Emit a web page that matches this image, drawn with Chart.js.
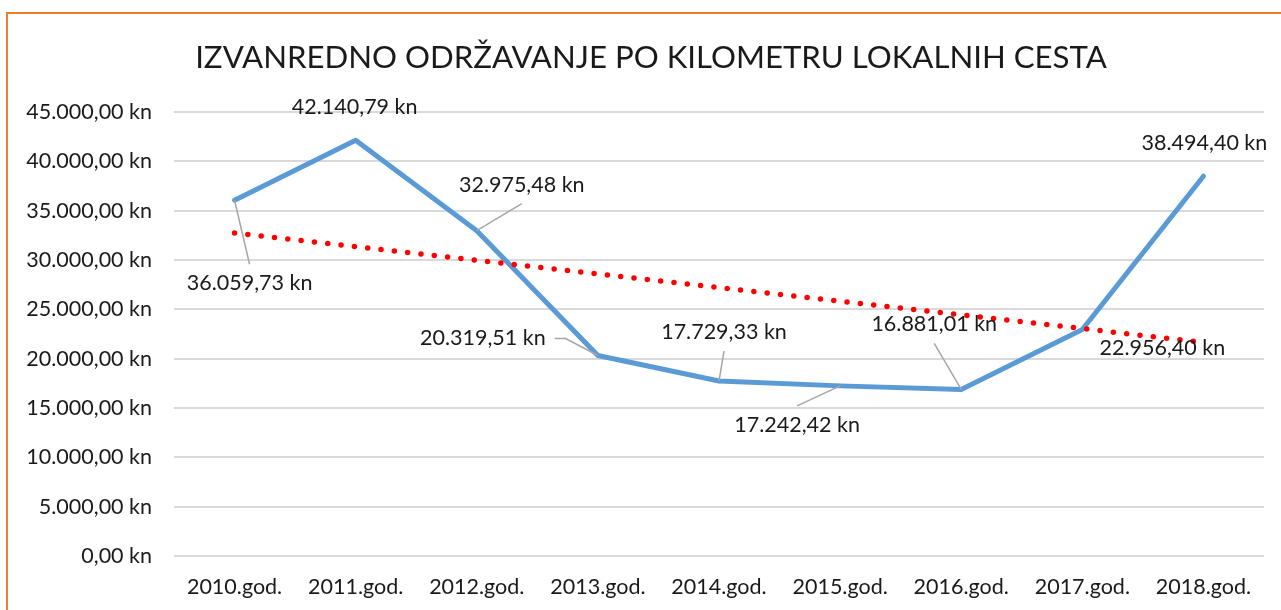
<!DOCTYPE html>
<html>
<head>
<meta charset="utf-8">
<script src="https://cdn.jsdelivr.net/npm/chart.js@4.4.0/dist/chart.umd.min.js"></script>
<style>
  body { margin: 0; background: #fff; }
  #wrap { width: 1281px; height: 610px; }
</style>
</head>
<body>
<div id="wrap"><canvas id="odrzavanjeChart"></canvas></div>
<script>
// podaci s grafa
const godine = ['2010.god.', '2011.god.', '2012.god.', '2013.god.', '2014.god.', '2015.god.', '2016.god.', '2017.god.', '2018.god.'];
const iznosi = [36059.73, 42140.79, 32975.48, 20319.51, 17729.33, 17242.42, 16881.01, 22956.40, 38494.40];
// linearni trend, samo pocetak i kraj (ocitano s grafa)
const trend = [32740, null, null, null, null, null, null, null, 21660];
const yMax = 45000;
const yKorak = 5000;
const naslov = 'IZVANREDNO ODRŽAVANJE PO KILOMETRU LOKALNIH CESTA';

// pomak oznake od tocke (px) i s koje strane ide linija do tocke
const oznake = [
    { dx: 15, dy: 83, linija: 'top' },
    { dx: -1, dy: -33, linija: null },
    { dx: 45, dy: -46, linija: 'bottom' },
    { dx: -115, dy: -17, linija: 'right' },
    { dx: 5, dy: -49, linija: 'bottom' },
    { dx: -43, dy: 39, linija: 'top' },
    { dx: -27, dy: -65, linija: 'bottom' },
    { dx: 80, dy: 19, linija: null },
    { dx: 1, dy: -33, linija: null }
];

const FONT = 'Lato';
const TEXT = '#1a1a1a';
const VEL = 21.5;

function kn(v) {
    const parts = Math.abs(v).toFixed(2).split('.');
    const cijeli = parts[0].replace(/\B(?=(\d{3})+(?!\d))/g, '.');
    return (v < 0 ? '-' : '') + cijeli + ',' + parts[1] + ' kn';
}

// narancasti okvir (vidi se samo gore i lijevo) i naslov
const okvir = {
    id: 'okvir',
    afterDraw(chart) {
        const ctx = chart.ctx;
        ctx.save();
        ctx.strokeStyle = '#ED7D31';
        ctx.lineWidth = 2;
        ctx.strokeRect(7, 13, chart.width + 20, chart.height + 20);
        ctx.fillStyle = TEXT;
        ctx.font = '31.2px ' + FONT;
        ctx.textAlign = 'center';
        ctx.textBaseline = 'middle';
        ctx.fillText(naslov, 651, 58);
        ctx.restore();
    }
};

// oznake podataka s linijama kao u Excelu
const oznakePodataka = {
    id: 'oznakePodataka',
    afterDatasetsDraw(chart) {
        const ctx = chart.ctx;
        const meta = chart.getDatasetMeta(1);
        ctx.save();
        ctx.font = VEL + 'px ' + FONT;
        ctx.textAlign = 'center';
        ctx.textBaseline = 'middle';
        meta.data.forEach((pt, i) => {
            const o = oznake[i];
            const cx = pt.x + o.dx;
            const cy = pt.y + o.dy;
            const tekst = kn(iznosi[i]);
            const w = ctx.measureText(tekst).width;
            if (o.linija) {
                ctx.strokeStyle = '#a6a6a6';
                ctx.lineWidth = 1.5;
                ctx.beginPath();
                if (o.linija === 'top') {
                    ctx.moveTo(cx, cy - 19);
                } else if (o.linija === 'bottom') {
                    ctx.moveTo(cx, cy + 19);
                } else if (o.linija === 'right') {
                    ctx.moveTo(cx + w / 2 + 9, cy);
                    ctx.lineTo(cx + w / 2 + 20, cy);
                }
                ctx.lineTo(pt.x, pt.y);
                ctx.stroke();
            }
            ctx.fillStyle = TEXT;
            ctx.fillText(tekst, cx, cy);
        });
        ctx.restore();
    }
};

const ctx = document.getElementById('odrzavanjeChart').getContext('2d');
new Chart(ctx, {
    type: 'line',
    data: {
        labels: godine,
        datasets: [
            {
                label: 'Linearni trend',
                data: trend,
                spanGaps: true,
                borderColor: '#FF0000',
                borderWidth: 5.5,
                borderDash: [0, 13.4],
                borderCapStyle: 'round',
                pointRadius: 0,
                fill: false,
                order: 0
            },
            {
                label: 'Izvanredno održavanje',
                data: iznosi,
                borderColor: '#5B9BD5',
                borderWidth: 5,
                borderCapStyle: 'round',
                borderJoinStyle: 'round',
                pointRadius: 0,
                tension: 0,
                fill: false,
                order: 1
            }
        ]
    },
    options: {
        responsive: true,
        maintainAspectRatio: false,
        animation: false,
        layout: { padding: { left: 0, right: 17, top: 112, bottom: 0 } },
        scales: {
            x: {
                offset: true,
                grid: { display: false, drawTicks: false },
                border: { display: false },
                ticks: {
                    color: TEXT,
                    font: { family: FONT, size: VEL },
                    padding: 18,
                    maxRotation: 0,
                    autoSkip: false
                },
                afterFit(scale) { scale.height = 54; }
            },
            y: {
                min: 0,
                max: yMax,
                grid: { color: '#d9d9d9', lineWidth: 2, drawTicks: false },
                border: { display: false },
                ticks: {
                    stepSize: yKorak,
                    color: TEXT,
                    font: { family: FONT, size: VEL },
                    padding: 22,
                    callback: (v) => kn(v)
                },
                afterFit(scale) { scale.width = 174; }
            }
        },
        plugins: {
            legend: { display: false },
            tooltip: { enabled: false },
            title: { display: false }
        }
    },
    plugins: [okvir, oznakePodataka]
});
</script>
</body>
</html>
